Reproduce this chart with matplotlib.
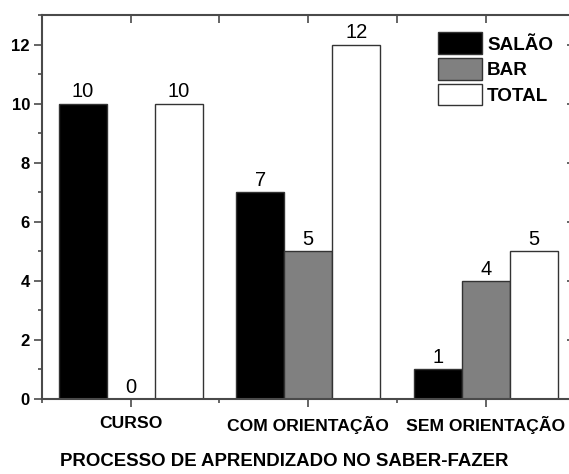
import matplotlib
matplotlib.use('Agg')
import matplotlib.pyplot as plt
from matplotlib.ticker import MultipleLocator
import numpy as np

plt.rcParams['font.family'] = ['Liberation Sans', 'DejaVu Sans']

categories = ["CURSO", "COM ORIENTAÇÃO", "SEM ORIENTAÇÃO"]
salao = [10, 7, 1]
bar = [0, 5, 4]
total = [10, 12, 5]
series_names = ["SALÃO", "BAR", "TOTAL"]

colors = ["#000000", "#808080", "#ffffff"]
spine_c = "#4a4a4a"

fig = plt.figure(figsize=(5.69, 4.74), dpi=100)
ax = fig.add_axes([0.0733, 0.1582, 0.937, 0.810])

x = np.arange(len(categories))
w = 0.27
handles = []
for i, (vals, name) in enumerate(zip([salao, bar, total], series_names)):
    bars = ax.bar(x + (i - 1) * w, vals, w, color=colors[i],
                  edgecolor="#333333", linewidth=1.0, label=name)
    handles.append(bars)
    for xi, v in zip(x + (i - 1) * w, vals):
        ax.text(xi, v + 0.08, str(v), ha='center', va='bottom', fontsize=14.5)

ax.set_xlim(-0.5, 2.5)
ax.set_ylim(0, 13)
ax.set_xticks(x)
ax.set_xticklabels(categories, fontsize=12.6, fontweight='bold')
ax.xaxis.set_minor_locator(MultipleLocator(0.5))
ax.yaxis.set_major_locator(MultipleLocator(2))
ax.yaxis.set_minor_locator(MultipleLocator(1))
for lbl in ax.get_yticklabels():
    lbl.set_fontweight('bold')
    lbl.set_fontsize(12)

ax.tick_params(axis='both', which='major', length=5.5, width=1.2, color=spine_c, pad=3)
ax.tick_params(axis='both', which='minor', length=3, width=1.2, color=spine_c)
ax.tick_params(axis='x', which='major', pad=7)
ax.tick_params(axis='both', which='both', direction='out')
for sp in ax.spines.values():
    sp.set_color(spine_c)
    sp.set_linewidth(1.5)

# top / right ticks pointing inward
ax_top = ax.secondary_xaxis('top')
ax_top.set_xticks(x)
ax_top.set_xticklabels([])
ax_top.xaxis.set_minor_locator(MultipleLocator(0.5))
ax_top.tick_params(which='both', direction='in', length=6, width=1.2, color=spine_c)
ax_top.spines['top'].set_visible(False)
ax_right = ax.secondary_yaxis('right')
ax_right.yaxis.set_major_locator(MultipleLocator(2))
ax_right.set_yticklabels([])
ax_right.tick_params(which='major', direction='in', length=5.5, width=1.2, color=spine_c)
ax_right.tick_params(which='minor', length=0)
ax_right.spines['right'].set_visible(False)

leg = ax.legend(handles=handles, loc='upper left', bbox_to_anchor=(0.743, 0.955),
                frameon=False, prop={'weight': 'bold', 'size': 13.6},
                handlelength=2.33, handleheight=1.4, handletextpad=0.28,
                labelspacing=0.2, borderaxespad=0, borderpad=0)

fig.text(0.5, 1 - 462 / 474, "PROCESSO DE APRENDIZADO NO SABER-FAZER",
         ha='center', va='center', fontsize=13.4, fontweight='bold')

fig.savefig("out.png", dpi=100)
